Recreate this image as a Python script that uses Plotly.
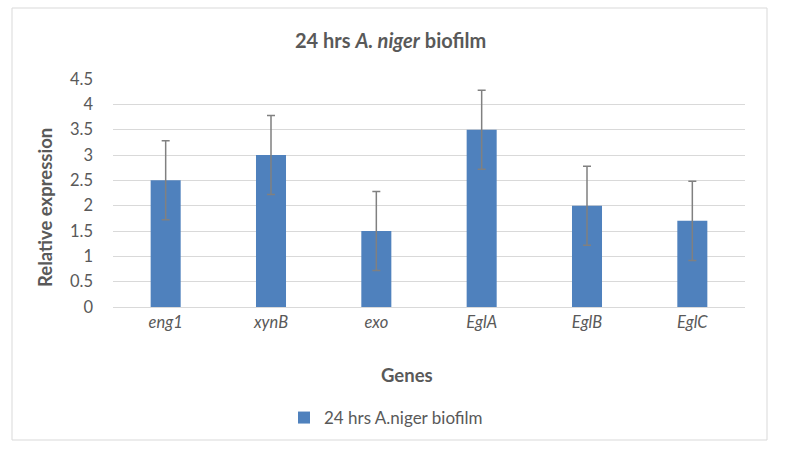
import plotly.graph_objects as go

genes = ["eng1", "xynB", "exo", "EglA", "EglB", "EglC"]
values = [2.5, 3.0, 1.5, 3.5, 2.0, 1.7]
errors = [0.78, 0.78, 0.78, 0.78, 0.78, 0.78]
y_ticks = [0, 0.5, 1, 1.5, 2, 2.5, 3, 3.5, 4, 4.5]
series_name = "24 hrs A.niger biofilm"

FONT = "Lato, 'Open Sans', sans-serif"
TXT = "#595959"

fig = go.Figure()
fig.add_trace(go.Bar(
    x=genes, y=values, name=series_name,
    marker=dict(color="#4f81bd", line=dict(width=0)),
    width=0.285,
    error_y=dict(type="data", array=errors, visible=True,
                 color="#808080", thickness=1.5, width=4),
))

L, R, T, B = 113, 45, 79, 145
W, H = 790, 452
pw, ph = W - L - R, H - T - B

def px(x):
    return (x - L) / pw

def py(y):
    return (H - B - y) / ph

fig.update_layout(
    width=W, height=H,
    margin=dict(l=L, r=R, t=T, b=B),
    paper_bgcolor="white", plot_bgcolor="white",
    font=dict(family=FONT, color=TXT, size=16),
    showlegend=True,
    legend=dict(orientation="h", x=px(386), xanchor="center", y=py(418), yanchor="middle",
                font=dict(size=17, color=TXT), itemwidth=30),
    xaxis=dict(
        tickmode="array", tickvals=genes,
        ticktext=[f"<i>{g}</i>" for g in genes],
        showline=True, linecolor="#d9d9d9", linewidth=1,
        showgrid=False, ticks="", tickfont=dict(size=16.5, color=TXT),
    ),
    yaxis=dict(
        range=[0, 4.5], tickmode="array", tickvals=y_ticks,
        ticktext=[str(v) for v in y_ticks],
        showgrid=True, gridcolor="#d9d9d9", gridwidth=1,
        zeroline=True, zerolinecolor="#d9d9d9", zerolinewidth=1,
        showline=False, ticks="", ticklabelstandoff=19,
        tickfont=dict(size=16.5, color=TXT),
    ),
    shapes=[dict(type="rect", xref="paper", yref="paper",
                 x0=px(12), x1=px(767), y0=py(440), y1=py(8),
                 line=dict(color="#d9d9d9", width=1), fillcolor="rgba(0,0,0,0)",
                 layer="below")],
    annotations=[
        dict(text="<b>24 hrs <i>A. niger</i> biofilm</b>", xref="paper", yref="paper",
             x=px(390), y=py(40), xanchor="center", yanchor="middle", showarrow=False,
             font=dict(size=20, color=TXT)),
        dict(text="<b>Genes</b>", xref="paper", yref="paper",
             x=px(407), y=py(375), xanchor="center", yanchor="middle", showarrow=False,
             font=dict(size=18.5, color=TXT)),
        dict(text="<b>Relative expression</b>", xref="paper", yref="paper",
             x=px(45), y=py(208), xanchor="center", yanchor="middle", showarrow=False,
             textangle=-90, font=dict(size=18.5, color=TXT)),
    ],
)

fig.write_html("out.html", config={"displayModeBar": False},
               post_script="document.body.style.margin='0';document.body.style.padding='0';")
